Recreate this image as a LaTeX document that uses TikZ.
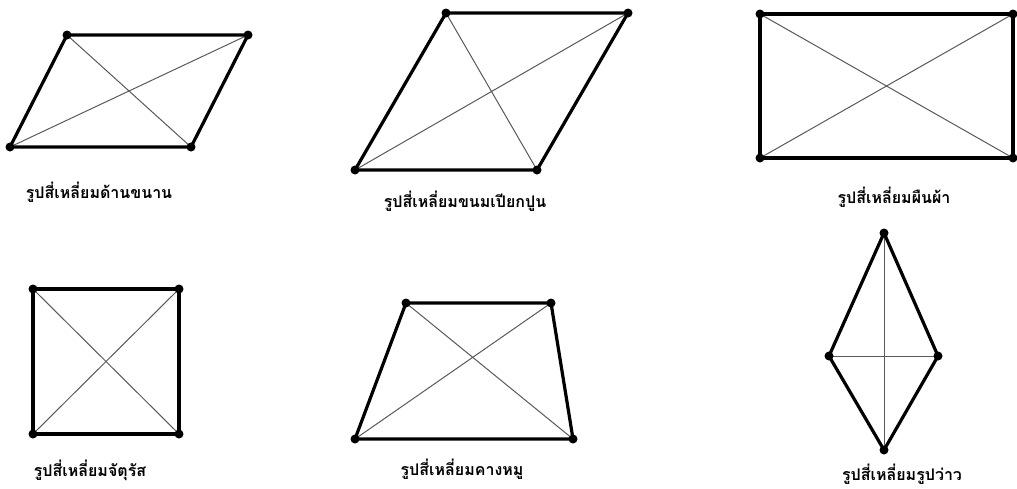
\documentclass[tikz,border=0pt]{standalone}
\usepackage{fontspec}
\newfontfamily\thaifont[Script=Thai]{Loma}
\tikzset{
  edge/.style={line width=3.2pt, line join=round, line cap=round},
  diag/.style={line width=1pt, draw=black!65},
  vtx/.style={circle, fill=black, inner sep=0pt, minimum size=9pt},
  lbl/.style={anchor=base, font=\thaifont\bfseries\fontsize{16}{19}\selectfont, inner sep=0pt}
}
\begin{document}
\begin{tikzpicture}[x=1pt,y=-1pt]
\useasboundingbox (0,0) rectangle (1017,488);
% 1 parallelogram
\coordinate (a1) at (67,35); \coordinate (a2) at (248,35);
\coordinate (a3) at (191,147); \coordinate (a4) at (10,147);
\draw[diag] (a4) -- (a2); \draw[diag] (a1) -- (a3);
\draw[edge] (a1) -- (a2) -- (a3) -- (a4) -- cycle;
\foreach \p in {a1,a2,a3,a4} \node[vtx] at (\p) {};
\node[lbl] (l1) at (99,198) {รูปสี่เหลี่ยมด้านขนาน};
% 2 rhombus
\coordinate (b1) at (446,13); \coordinate (b2) at (628,13);
\coordinate (b3) at (537,170); \coordinate (b4) at (355,170);
\draw[diag] (b4) -- (b2); \draw[diag] (b1) -- (b3);
\draw[edge] (b1) -- (b2) -- (b3) -- (b4) -- cycle;
\foreach \p in {b1,b2,b3,b4} \node[vtx] at (\p) {};
\node[lbl] (l2) at (465,207) {รูปสี่เหลี่ยมขนมเปียกปูน};
% 3 rectangle
\coordinate (c1) at (760,14); \coordinate (c2) at (1013,14);
\coordinate (c3) at (1013,158); \coordinate (c4) at (760,158);
\draw[diag] (c1) -- (c3); \draw[diag] (c2) -- (c4);
\draw[edge] (c1) -- (c2) -- (c3) -- (c4) -- cycle;
\foreach \p in {c1,c2,c3,c4} \node[vtx] at (\p) {};
\node[lbl] (l3) at (894,203) {รูปสี่เหลี่ยมผืนผ้า};
% 4 square
\coordinate (d1) at (33,289); \coordinate (d2) at (179,289);
\coordinate (d3) at (179,434); \coordinate (d4) at (33,434);
\draw[diag] (d1) -- (d3); \draw[diag] (d2) -- (d4);
\draw[edge] (d1) -- (d2) -- (d3) -- (d4) -- cycle;
\foreach \p in {d1,d2,d3,d4} \node[vtx] at (\p) {};
\node[lbl] (l4) at (90,476) {รูปสี่เหลี่ยมจัตุรัส};
% 5 trapezoid
\coordinate (e1) at (406,303); \coordinate (e2) at (551,303);
\coordinate (e3) at (573,439); \coordinate (e4) at (355,439);
\draw[diag] (e1) -- (e3); \draw[diag] (e2) -- (e4);
\draw[edge] (e1) -- (e2) -- (e3) -- (e4) -- cycle;
\foreach \p in {e1,e2,e3,e4} \node[vtx] at (\p) {};
\node[lbl] (l5) at (462,475) {รูปสี่เหลี่ยมคางหมู};
% 6 kite
\coordinate (f1) at (884,233); \coordinate (f2) at (938,356);
\coordinate (f3) at (884,450); \coordinate (f4) at (829,356);
\draw[diag] (f1) -- (f3); \draw[diag] (f2) -- (f4);
\draw[edge] (f1) -- (f2) -- (f3) -- (f4) -- cycle;
\foreach \p in {f1,f2,f3,f4} \node[vtx] at (\p) {};
\node[lbl] (l6) at (902,480) {รูปสี่เหลี่ยมรูปว่าว};
\end{tikzpicture}
\end{document}
